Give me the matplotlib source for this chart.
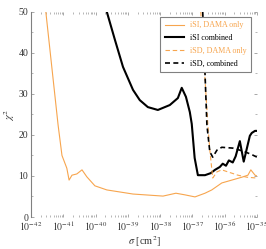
import numpy as np
import matplotlib
matplotlib.use("Agg")
import matplotlib.pyplot as plt

plt.rcParams['font.family'] = ['Liberation Serif', 'DejaVu Serif']
plt.rcParams['mathtext.fontset'] = 'stix'

# log10(sigma) and chi^2
si_dama_x = [-41.54, -41.16, -41.04, -40.89, -40.82, -40.73, -40.58, -40.42, -40.27, -40.02,
             -39.65, -38.84, -37.91, -37.51, -37.23, -36.92, -36.61, -36.40, -36.09, -35.78,
             -35.47, -35.28, -35.19, -35.06, -35.0]
si_dama_y = [50, 22.4, 15.0, 11.9, 9.0, 10.2, 10.5, 11.5, 9.8, 7.6,
             6.6, 5.6, 5.1, 5.8, 5.4, 4.9, 5.8, 6.6, 8.3, 9.0,
             9.7, 10.2, 11.5, 10.2, 10.0]

si_comb_x = [-39.65, -39.40, -39.15, -38.84, -38.63, -38.38, -38.07, -37.70, -37.45, -37.33,
             -37.20, -37.08, -37.02, -36.93, -36.83, -36.61, -36.43, -36.30, -36.15, -36.06,
             -35.96, -35.87, -35.75, -35.66, -35.53, -35.41, -35.22, -35.16, -35.06, -35.0]
si_comb_y = [50, 43.2, 36.6, 31.0, 28.5, 26.8, 26.1, 27.3, 29.0, 31.5,
             29.3, 25.6, 22.7, 14.4, 10.2, 10.2, 10.7, 11.5, 12.2, 13.0,
             12.5, 13.8, 13.3, 14.8, 18.5, 13.5, 19.8, 20.5, 21.0, 21.0]

sd_dama_x = [-36.74, -36.52, -36.46, -36.37, -36.24, -36.09, -35.90, -35.59, -35.31, -35.0]
sd_dama_y = [50, 22.4, 16.3, 9.5, 11.0, 11.5, 11.0, 10.2, 9.7, 9.5]

sd_comb_x = [-36.68, -36.55, -36.46, -36.37, -36.24, -36.09, -35.75, -35.44, -35.28, -35.13, -35.0]
sd_comb_y = [50, 22.4, 15.9, 14.6, 16.3, 17.0, 16.8, 16.1, 15.6, 15.1, 14.6]

orange = '#f7a54e'

fig = plt.figure(figsize=(2.66, 2.49), dpi=100)
ax = fig.add_axes([0.1165, 0.1285, 0.8495, 0.8235])

ax.plot(10.0**np.array(si_dama_x), si_dama_y, color=orange, lw=0.8, label='iSI, DAMA only')
ax.plot(10.0**np.array(si_comb_x), si_comb_y, color='black', lw=1.5, label='iSI combined')
ax.plot(10.0**np.array(sd_dama_x), sd_dama_y, color=orange, lw=0.8, ls=(0, (4, 2.5)), label='iSD, DAMA only')
ax.plot(10.0**np.array(sd_comb_x), sd_comb_y, color='black', lw=1.2, ls=(0, (3, 2)), label='iSD, combined')

ax.set_xscale('log')
ax.set_xlim(1e-42, 1e-35)
ax.set_ylim(0, 50)
ax.set_xticks([10.0**k for k in range(-42, -34)])
ax.set_xticklabels([r'$10^{%d}$' % k for k in range(-42, -34)])
ax.set_yticks([0, 10, 20, 30, 40, 50])
ax.set_yticks([5, 15, 25, 35, 45], minor=True)

for s in ['top', 'right', 'bottom']:
    ax.spines[s].set_visible(False)
ax.spines['left'].set_color('#808080')
ax.spines['left'].set_linewidth(0.8)
ax.tick_params(which='both', direction='in', top=True, right=True, color='#999999',
               labelsize=7, labelcolor='#333333', pad=2)
ax.tick_params(which='major', length=2.5, width=0.6)
ax.tick_params(which='minor', length=1.5, width=0.5)
ax.tick_params(axis='x', which='minor', length=1.2)

ax.set_xlabel(r'$\sigma$ [cm$^2$]', fontsize=7.5, labelpad=0.5, color='#333333')
ax.set_ylabel(r'$\chi^2$', fontsize=7.5, labelpad=1, color='#333333')

leg = ax.legend(loc='upper right', bbox_to_anchor=(0.99, 0.995), fontsize=5.8,
                frameon=True, fancybox=False, framealpha=1, edgecolor='#808080',
                handlelength=2.4, handletextpad=0.7, borderpad=0.55, labelspacing=0.6)
leg.get_frame().set_linewidth(0.8)
for t, c in zip(leg.get_texts(), [orange, 'black', orange, 'black']):
    t.set_color(c)

fig.savefig('out.png', dpi=100)
